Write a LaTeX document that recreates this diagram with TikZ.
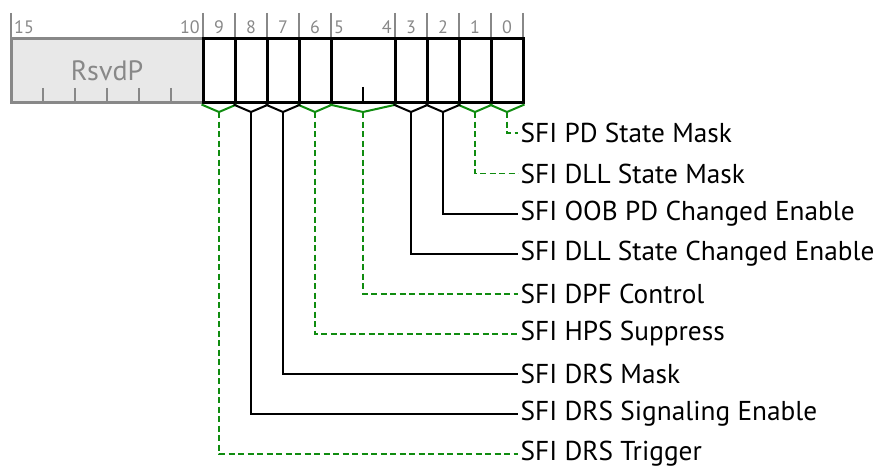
\documentclass[tikz,border=0pt]{standalone}
\usepackage{fontspec}
\setmainfont{PT Sans}
\usetikzlibrary{calc}
\definecolor{sfgreen}{RGB}{16,140,16}
\definecolor{rgray}{RGB}{136,136,136}
\definecolor{rfill}{RGB}{232,232,232}
\begin{document}
\begin{tikzpicture}[x=1pt,y=-1pt,
  field/.style={draw=black, line width=3pt, fill=white, inner sep=0pt, minimum height=64pt},
  rsvd/.style={draw=rgray, line width=3pt, fill=rfill, inner sep=0pt, minimum height=64pt, text=rgray, font=\fontsize{28}{32}\selectfont},
  bitnum/.style={text=rgray, inner sep=0pt, font=\fontsize{18}{20}\selectfont},
  toptick/.style={draw=rgray, line width=1.6pt},
  lab/.style={anchor=west, inner sep=2.5pt, font=\fontsize{27.3}{30}\selectfont},
  gconn/.style={draw=sfgreen, line width=1.9pt, dash pattern=on 6pt off 3.5pt},
  bconn/.style={draw=black, line width=1.9pt},
  gvee/.style={draw=sfgreen, line width=2pt},
  bvee/.style={draw=black, line width=2pt}]
\useasboundingbox (0,0) rectangle (890,468);
% top ticks
\foreach \x in {11,203,235,267,299,331,395,427,459,491,523}
  \draw[toptick] (\x,13) -- (\x,39);
% bit numbers
\node[bitnum, anchor=west] (n15) at (14,27) {15};
\node[bitnum, anchor=east] (n10) at (200,27) {10};
\foreach \i/\x in {9/219,8/251,7/283,6/315,3/411,2/443,1/475,0/507}
  \node[bitnum] (n\i) at (\x,27) {\i};
\node[bitnum, anchor=west] (n5) at (334,27) {5};
\node[bitnum, anchor=east] (n4) at (392,27) {4};
% reserved field
\node[rsvd, minimum width=192pt] (rs) at (107,71) {RsvdP};
\foreach \x in {43,75,107,139,171}
  \draw[draw=rgray, line width=1.6pt] (\x,88) -- (rs.south -| \x,0);
% fields
\node[field, minimum width=32pt] (f9) at (219,71) {};
\node[field, minimum width=32pt] (f8) at (251,71) {};
\node[field, minimum width=32pt] (f7) at (283,71) {};
\node[field, minimum width=32pt] (f6) at (315,71) {};
\node[field, minimum width=64pt] (f54) at (363,71) {};
\node[field, minimum width=32pt] (f3) at (411,71) {};
\node[field, minimum width=32pt] (f2) at (443,71) {};
\node[field, minimum width=32pt] (f1) at (475,71) {};
\node[field, minimum width=32pt] (f0) at (507,71) {};
\draw[black, line width=2pt] (363,87) -- (f54.south);
% apexes
\foreach \f in {9,8,7,6,54,3,2,1,0}
  \coordinate (a\f) at ($(f\f.south)+(0,7.5)$);
% labels
\node[lab] (l0) at (518,133) {SFI PD State Mask};
\node[lab] (l1) at (518,173.5) {SFI DLL State Mask};
\node[lab] (l2) at (518,214) {SFI OOB PD Changed Enable};
\node[lab] (l3) at (518,254) {SFI DLL State Changed Enable};
\node[lab] (l54) at (518,294) {SFI DPF Control};
\node[lab] (l6) at (518,334) {SFI HPS Suppress};
\node[lab] (l7) at (518,374) {SFI DRS Mask};
\node[lab] (l8) at (518,414) {SFI DRS Signaling Enable};
\node[lab] (l9) at (518,454) {SFI DRS Trigger};
% vees and connectors
\foreach \f in {9,6,54,1,0} {
  \draw[gvee] (f\f.south west) -- (a\f) -- (f\f.south east);
  \draw[gconn] (a\f) |- (l\f.west);
}
\foreach \f in {8,7,3,2} {
  \draw[bvee] (f\f.south west) -- (a\f) -- (f\f.south east);
  \draw[bconn] (a\f) |- (l\f.west);
}
\end{tikzpicture}
\end{document}
